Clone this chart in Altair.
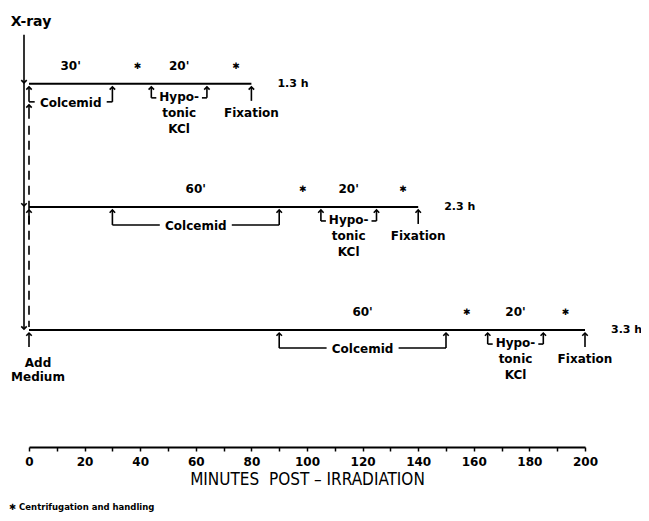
import altair as alt
import pandas as pd

# ---------------- data (minutes post-irradiation) ----------------
rows = [1, 2, 3]
row_totals = ["1.3 h", "2.3 h", "3.3 h"]
medium_time = [0, 0, 0]
colcemid_start = [0, 30, 90]
colcemid_end = [30, 90, 150]
colcemid_minutes = ["30'", "60'", "60'"]
hypotonic_start = [44, 105, 165]
hypotonic_end = [64, 125, 185]
hypotonic_minutes = ["20'", "20'", "20'"]
fixation = [80, 140, 200]
centrifuge_before_kcl = [39, 98.5, 157.5]
centrifuge_before_fix = [74.5, 134.5, 193]
axis_ticks = [0, 10, 20, 30, 40, 50, 60, 70, 80, 90, 100,
              110, 120, 130, 140, 150, 160, 170, 180, 190, 200]

FONT = "DejaVu Sans"
TITLE = "MINUTES\u00a0\u00a0POST \u2013 IRRADIATION"
UP = "M-1,1L0,0L1,1"
DOWN = "M-1,-1L0,0L1,-1"

df = pd.DataFrame({
    "row": rows, "total": row_totals, "start": medium_time,
    "cs": colcemid_start, "ce": colcemid_end, "cm": colcemid_minutes,
    "hs": hypotonic_start, "he": hypotonic_end, "hm": hypotonic_minutes,
    "fx": fixation,
})
stars = pd.DataFrame({"row": rows * 2,
                      "t": centrifuge_before_kcl + centrifuge_before_fix})
col_arrows = pd.DataFrame({"row": rows * 2, "t": colcemid_start + colcemid_end})
hyp_arrows = pd.DataFrame({"row": rows * 2, "t": hypotonic_start + hypotonic_end})
fix_arrows = pd.DataFrame({"row": rows, "t": fixation})
medium = pd.DataFrame({"row": rows, "t": medium_time})
xray = pd.DataFrame({"row": rows, "t": medium_time})
span = pd.DataFrame({"t": [medium_time[0]], "r1": [rows[0]], "r3": [rows[-1]]})

xs = alt.Scale(domain=[0, 200], nice=False, zero=False)
ys = alt.Scale(domain=[0.4, 3.95], nice=False, zero=False, reverse=True)
xaxis = alt.Axis(
    values=axis_ticks, format="d",
    labelExpr="datum.value % 20 === 0 ? datum.label : ''",
    labelFont=FONT, labelFontSize=12, labelFontWeight="bold", labelColor="black",
    labelPadding=5, labelFlush=False,
    domainColor="black", domainWidth=2,
    ticks=True, tickSize=4, tickColor="black", tickWidth=1.5,
    grid=False,
    titleFont="Liberation Sans Narrow, DejaVu Sans Condensed, sans-serif",
    titleFontSize=17, titleFontWeight="normal", titleColor="black",
    titlePadding=4,
)


def X(f):
    return alt.X(f, type="quantitative", scale=xs, axis=xaxis, title=TITLE)


def Y(f="row"):
    return alt.Y(f, type="quantitative", scale=ys, axis=None)


txt = dict(font=FONT, fontWeight="bold", fontSize=12, color="black")
ln = dict(color="black", strokeWidth=1.6)
head = dict(filled=False, color="black", strokeWidth=1.6, size=30, opacity=1)

base = alt.Chart(df)
layers = []

# timelines
layers.append(base.mark_rule(color="black", strokeWidth=2).encode(
    x=X("start"), x2=alt.X2("fx"), y=Y()))
# duration labels
layers.append(base.transform_calculate(cmid="(datum.cs + datum.ce) / 2")
              .mark_text(dy=-18, **txt).encode(x=X("cmid:Q"), y=Y(), text="cm"))
layers.append(base.transform_calculate(hmid="(datum.hs + datum.he) / 2")
              .mark_text(dy=-18, **txt).encode(x=X("hmid:Q"), y=Y(), text="hm"))
# centrifugation stars
layers.append(alt.Chart(stars).mark_text(dy=-18, font=FONT, fontSize=9, color="black")
              .encode(x=X("t"), y=Y(), text=alt.value("\u2731")))
# total duration
layers.append(base.mark_text(align="left", dx=26, font=FONT, fontWeight="bold",
                             fontSize=11, color="black")
              .encode(x=X("fx"), y=Y(), text="total"))

# up arrows: colcemid
layers.append(alt.Chart(col_arrows).mark_rule(yOffset=3, y2Offset=18, **ln)
              .encode(x=X("t"), y=Y(), y2=alt.Y2("row")))
# hypotonic
layers.append(alt.Chart(hyp_arrows).mark_rule(yOffset=3, y2Offset=14, **ln)
              .encode(x=X("t"), y=Y(), y2=alt.Y2("row")))
# fixation
layers.append(alt.Chart(fix_arrows).mark_rule(yOffset=3, y2Offset=17, **ln)
              .encode(x=X("t"), y=Y(), y2=alt.Y2("row")))
for d in (col_arrows, hyp_arrows, fix_arrows):
    layers.append(alt.Chart(d).mark_point(shape=UP, yOffset=3, **head)
                  .encode(x=X("t"), y=Y()))

# colcemid bracket + label
cb = base.transform_calculate(cmid="(datum.cs + datum.ce) / 2")
layers.append(cb.mark_rule(yOffset=18, x2Offset=-36, **ln)
              .encode(x=X("cs"), x2=alt.X2("cmid:Q"), y=Y()))
layers.append(cb.mark_rule(yOffset=18, xOffset=36, **ln)
              .encode(x=X("cmid:Q"), x2=alt.X2("ce"), y=Y()))
layers.append(cb.mark_text(dy=19, **txt)
              .encode(x=X("cmid:Q"), y=Y(), text=alt.value("Colcemid")))

# hypotonic hooks + label
hb = base.transform_calculate(hmid="(datum.hs + datum.he) / 2")
layers.append(base.mark_rule(yOffset=14, x2Offset=5, **ln)
              .encode(x=X("hs"), x2=alt.X2("hs"), y=Y()))
layers.append(base.mark_rule(yOffset=14, xOffset=-5, **ln)
              .encode(x=X("he"), x2=alt.X2("he"), y=Y()))
layers.append(hb.mark_text(baseline="top", dy=8, lineBreak="\n", lineHeight=16, **txt)
              .encode(x=X("hmid:Q"), y=Y(), text=alt.value("Hypo-\ntonic\nKCl")))

# fixation label
layers.append(base.mark_text(dy=29, **txt)
              .encode(x=X("fx"), y=Y(), text=alt.value("Fixation")))

# medium additions
m1 = alt.Chart(medium).transform_filter("datum.row === 1")
m23 = alt.Chart(medium).transform_filter("datum.row !== 1")
layers.append(m1.mark_rule(yOffset=21, y2Offset=35, **ln)
              .encode(x=X("t"), y=Y(), y2=alt.Y2("row")))
layers.append(m1.mark_point(shape=UP, yOffset=21, **head).encode(x=X("t"), y=Y()))
layers.append(m23.mark_rule(yOffset=3, y2Offset=17, **ln)
              .encode(x=X("t"), y=Y(), y2=alt.Y2("row")))
layers.append(m23.mark_point(shape=UP, yOffset=3, **head).encode(x=X("t"), y=Y()))
layers.append(alt.Chart(span).mark_rule(yOffset=42, y2Offset=-3, strokeDash=[9, 6], **ln)
              .encode(x=X("t"), y=Y("r1"), y2=alt.Y2("r3")))
layers.append(alt.Chart(span).mark_text(baseline="top", dy=28, dx=9, lineBreak="\n",
                                        lineHeight=14, **txt)
              .encode(x=X("t"), y=Y("r3"), text=alt.value("Add\nMedium")))

# X-ray arrow
layers.append(alt.Chart(span).mark_rule(xOffset=-5, yOffset=-49, y2Offset=-1, **ln)
              .encode(x=X("t"), y=Y("r1"), y2=alt.Y2("r3")))
layers.append(alt.Chart(xray).mark_point(shape=DOWN, xOffset=-5, yOffset=-1, **head)
              .encode(x=X("t"), y=Y()))
layers.append(alt.Chart(span).mark_text(dy=-62, dx=2, font=FONT, fontWeight="bold",
                                        fontSize=14, color="black")
              .encode(x=X("t"), y=Y("r1"), text=alt.value("X-ray")))

chart = alt.layer(*layers).properties(
    width=556, height=437,
    padding={"left": 21, "top": 2, "right": 56, "bottom": 66},
    autosize=alt.AutoSizeParams(type="none"),
    title=alt.Title("\u2731 Centrifugation and handling", orient="bottom", anchor="start",
                    frame="group", dx=-20, offset=16, font=FONT, fontSize=8.5,
                    fontWeight="bold", color="black"),
).configure_view(stroke=None)

chart.save("out.html", embed_options={"renderer": "svg", "actions": False})
